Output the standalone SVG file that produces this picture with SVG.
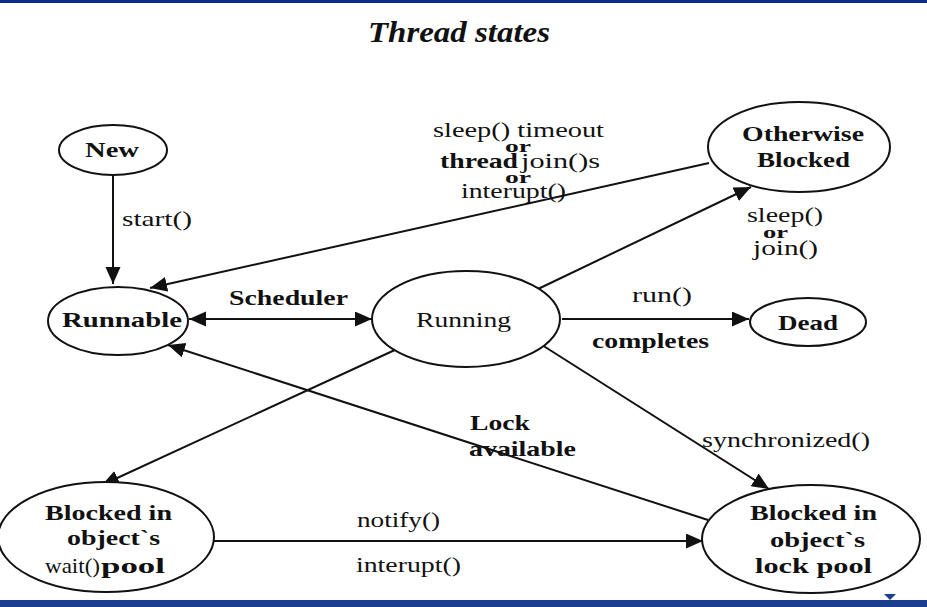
<svg xmlns="http://www.w3.org/2000/svg" width="927" height="607" viewBox="0 0 927 607">
<style>
.n{fill:#fff;stroke:#111;stroke-width:2}
.c{stroke:#111;stroke-width:2;fill:none}
text{font-family:"Liberation Serif","Times New Roman",serif;fill:#111}
.r{font-size:22px}
.b{font-size:22px;font-weight:bold}
.o{font-size:20px;font-weight:bold}
.s{font-size:17px;font-weight:bold}
</style>
<defs>
<marker id="ah" markerUnits="userSpaceOnUse" markerWidth="18" markerHeight="16" refX="17" refY="7.5" orient="auto-start-reverse">
<path d="M0,0 L17,7.5 L0,15 z" fill="#111"/>
</marker>
</defs>
<rect width="927" height="607" fill="#fff"/>
<rect x="0" y="0" width="927" height="3" fill="#0a2a8c"/>
<rect x="0" y="600" width="927" height="7" fill="#1b3d8f"/>
<path d="M884,594 L896,594 L890,600 z" fill="#1b3d8f"/>
<text x="368" y="42" font-size="30" font-weight="bold" font-style="italic" textLength="182" lengthAdjust="spacingAndGlyphs">Thread states</text>

<g id="connectors">
<path class="c" d="M113,176 L113,284" marker-end="url(#ah)"/>
<path class="c" d="M709,163 L150,288" marker-end="url(#ah)"/>
<path class="c" d="M189,319 L372,319" marker-start="url(#ah)" marker-end="url(#ah)"/>
<path class="c" d="M538,289 L751,187" marker-end="url(#ah)"/>
<path class="c" d="M562,319 L749,319" marker-end="url(#ah)"/>
<path class="c" d="M397,349 L102,485" marker-end="url(#ah)"/>
<path class="c" d="M708,520 L168,345" marker-end="url(#ah)"/>
<path class="c" d="M542,345 L769,489" marker-end="url(#ah)"/>
<path class="c" d="M214,541 L703,541" marker-end="url(#ah)"/>
</g>

<g id="edge-labels">
<text class="r" x="122" y="226" textLength="70" lengthAdjust="spacingAndGlyphs">start()</text>
<text class="o" x="229" y="305" textLength="119" lengthAdjust="spacingAndGlyphs">Scheduler</text>
<text class="r" x="632" y="302" textLength="60" lengthAdjust="spacingAndGlyphs">run()</text>
<text class="o" x="592" y="348" textLength="117" lengthAdjust="spacingAndGlyphs">completes</text>
<text class="r" x="433" y="137" textLength="171" lengthAdjust="spacingAndGlyphs">sleep() timeout</text>
<text class="s" x="505" y="152" textLength="26" lengthAdjust="spacingAndGlyphs">or</text>
<text class="b" x="440" y="168" textLength="78" lengthAdjust="spacingAndGlyphs">thread</text>
<text class="r" x="521" y="168" textLength="79" lengthAdjust="spacingAndGlyphs">join()s</text>
<text class="s" x="505" y="183" textLength="26" lengthAdjust="spacingAndGlyphs">or</text>
<text class="r" x="461" y="198" textLength="105" lengthAdjust="spacingAndGlyphs">interupt()</text>
<text class="r" x="747" y="222" textLength="76" lengthAdjust="spacingAndGlyphs">sleep()</text>
<text class="s" x="763" y="238" textLength="25" lengthAdjust="spacingAndGlyphs">or</text>
<text class="r" x="753" y="255" textLength="65" lengthAdjust="spacingAndGlyphs">join()</text>
<text class="b" x="470" y="430" textLength="60" lengthAdjust="spacingAndGlyphs">Lock</text>
<text class="b" x="469" y="456" textLength="107" lengthAdjust="spacingAndGlyphs">available</text>
<text class="r" x="702" y="447" textLength="168" lengthAdjust="spacingAndGlyphs">synchronized()</text>
<text class="r" x="357" y="527" textLength="83" lengthAdjust="spacingAndGlyphs">notify()</text>
<text class="r" x="356" y="572" textLength="105" lengthAdjust="spacingAndGlyphs">interupt()</text>
</g>

<g id="new">
<ellipse class="n" cx="113" cy="150" rx="54" ry="25"/>
<text class="b" x="85" y="157" textLength="54" lengthAdjust="spacingAndGlyphs">New</text>
</g>
<g id="runnable">
<ellipse class="n" cx="118" cy="321" rx="70" ry="34"/>
<text class="b" x="62" y="327" textLength="120" lengthAdjust="spacingAndGlyphs">Runnable</text>
</g>
<g id="running">
<ellipse class="n" cx="466" cy="319" rx="94" ry="48"/>
<text class="r" x="416" y="327" textLength="95" lengthAdjust="spacingAndGlyphs">Running</text>
</g>
<g id="otherwise-blocked">
<ellipse class="n" cx="799" cy="147" rx="91" ry="45"/>
<text class="b" x="742" y="141" textLength="122" lengthAdjust="spacingAndGlyphs">Otherwise</text>
<text class="b" x="757" y="167" textLength="93" lengthAdjust="spacingAndGlyphs">Blocked</text>
</g>
<g id="dead">
<ellipse class="n" cx="808" cy="322" rx="58" ry="24"/>
<text class="b" x="778" y="330" textLength="60" lengthAdjust="spacingAndGlyphs">Dead</text>
</g>
<g id="blocked-wait">
<ellipse class="n" cx="106" cy="537" rx="108" ry="55"/>
<text class="b" x="45" y="520" textLength="127" lengthAdjust="spacingAndGlyphs">Blocked in</text>
<text class="b" x="67" y="545" textLength="93" lengthAdjust="spacingAndGlyphs">object`s</text>
<text class="r" x="45" y="573" textLength="55" lengthAdjust="spacingAndGlyphs">wait()</text>
<text class="b" x="101" y="573" textLength="64" lengthAdjust="spacingAndGlyphs">pool</text>
</g>
<g id="blocked-lock">
<ellipse class="n" cx="811" cy="539" rx="109" ry="54"/>
<text class="b" x="750" y="520" textLength="127" lengthAdjust="spacingAndGlyphs">Blocked in</text>
<text class="b" x="770" y="547" textLength="95" lengthAdjust="spacingAndGlyphs">object`s</text>
<text class="b" x="755" y="573" textLength="117" lengthAdjust="spacingAndGlyphs">lock pool</text>
</g>
</svg>
